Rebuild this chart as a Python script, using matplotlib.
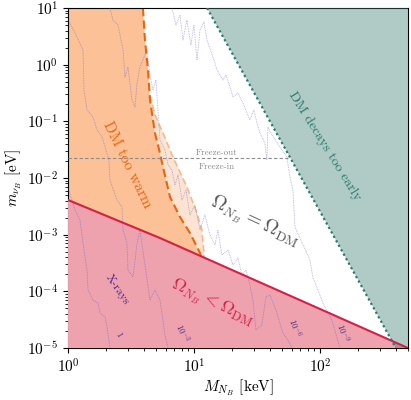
import numpy as np
import matplotlib
matplotlib.use('Agg')
import matplotlib.pyplot as plt

plt.rcParams['mathtext.fontset'] = 'cm'
plt.rcParams['font.family'] = ['cmr10', 'DejaVu Serif']
plt.rcParams['axes.formatter.use_mathtext'] = True

# axis range
M_lim = [1, 500]      # keV
m_lim = [1e-5, 10]    # eV

# "DM too warm" boundary (log10 M [keV], log10 m [eV])
warm_logM = [0.595, 0.611, 0.635, 0.651, 0.690, 0.730, 0.754, 0.810, 0.889, 0.968, 1.048, 1.056]
warm_logm = [1.0, 0.435, -0.094, -0.623, -1.206, -1.559, -1.806, -2.335, -2.688, -2.970, -3.323, -3.38]

# lighter uncertainty band, outer edge
band_logM = [0.651, 0.690, 0.754, 0.833, 0.944, 1.024, 1.063, 1.079, 1.079]
band_logm = [-0.535, -0.888, -1.206, -1.629, -2.159, -2.618, -2.918, -3.323, -3.41]

# Omega_NB = Omega_DM line
relic_M = [1, 5.37, 500]
relic_m = [4.09e-3, 8.73e-4, 1.0e-5]

# DM decays too early boundary
decay_M = [12.7, 401]
decay_m = [10, 1e-5]

# freeze-out / freeze-in separation
freeze_M = [1, 57.8]
freeze_m = [0.0225, 0.0225]

# X-ray contours (log10 M, log10 m)
xr1_logM = [0, .056, .095, .119, .151, .159, .198, .238, .254, .294, .310, .333]
xr1_logm = [-2.176, -2.564, -2.741, -3.147, -3.623, -3.976, -4.153, -4.206, -4.382, -4.453, -4.629, -5.0]

xr3_logM = [0, .056, .119, .127, .151, .198, .230, .270, .294, .325, .333, .389, .429, .437, .468,
            .476, .516, .548, .571, .611, .651, .690, .730, .754, .770, .794]
xr3_logm = [.788, .559, .259, -.447, -.800, -.923, -1.153, -1.276, -1.453, -1.682, -2.035, -2.388,
            -2.512, -2.918, -3.147, -3.623, -3.747, -3.147, -2.918, -3.535, -4.153, -3.976, -4.153,
            -4.506, -4.771, -5.0]

xr6_logM = [.333, .357, .397, .437, .452, .476, .508, .532, .548, .571, .627, .651, .675, .698, .714,
            .730, .770, .794, .825, .849, .873, .905, .937, .968, 1.008, 1.048, 1.087, 1.127, 1.167,
            1.190, 1.222, 1.270, 1.310, 1.349, 1.381, 1.413, 1.444, 1.468, 1.492, 1.540, 1.571,
            1.603, 1.651, 1.706, 1.746, 1.778]
xr6_logm = [1.0, .788, .700, .259, -.218, -.041, -.623, -.747, -.323, -.041, .259, -.182, -.447,
            -.270, -.800, -1.329, -1.506, -1.770, -1.859, -2.123, -1.947, -2.388, -2.212, -2.653,
            -2.476, -2.918, -2.653, -3.006, -3.182, -2.918, -3.359, -3.270, -3.535, -3.412, -3.712,
            -3.623, -3.888, -4.153, -4.682, -4.594, -4.100, -4.065, -4.329, -4.735, -4.859, -5.0]

xr9_logM = [.825, .857, .889, .913, .944, .976, 1.0, 1.024, 1.048, 1.079, 1.103, 1.151, 1.183, 1.230,
            1.254, 1.286, 1.310, 1.349, 1.389, 1.421, 1.444, 1.476, 1.500, 1.524, 1.563, 1.579,
            1.587, 1.619, 1.683, 1.738, 1.762, 1.786, 1.802, 1.921, 1.944, 2.024, 2.095, 2.159]
xr9_logm = [1.0, .700, .876, .435, .788, .347, .700, .082, .612, .753, .435, .135, -.094, -.271,
            -.182, -.394, -.570, -.500, -.676, -.853, -.976, -.800, -1.029, -1.206, -1.382, -1.682,
            -1.100, -1.241, -1.453, -1.629, -1.982, -2.212, -2.865, -3.447, -3.747, -4.206, -4.506, -5.0]

fig = plt.figure(figsize=(4.11, 4.0), dpi=100)
ax = fig.add_axes([0.1655, 0.13, 0.827, 0.85])
ax.set_xscale('log')
ax.set_yscale('log')

warm_M = 10 ** np.array(warm_logM)
warm_m = 10 ** np.array(warm_logm)
band_M = 10 ** np.array(band_logM)
band_m = 10 ** np.array(band_logm)

# DM too warm region
ax.fill(np.r_[M_lim[0], warm_M, M_lim[0]], np.r_[m_lim[1], warm_m, m_lim[0]],
        color='#fcc197', lw=0, zorder=1)
# uncertainty band
sel = warm_M >= band_M[0]
ax.fill(np.r_[warm_M[sel][::-1], band_M], np.r_[warm_m[sel][::-1], band_m],
        color='#fde3d1', lw=0, zorder=1)
ax.plot(band_M, band_m, color='#f8b88e', lw=1.2, dashes=(4, 2), zorder=2)
ax.plot(warm_M, warm_m, color='#ea640f', lw=1.5, dashes=(4, 2), zorder=2)

# Omega_NB < Omega_DM region
ax.fill(np.r_[relic_M, M_lim[1], M_lim[0]], np.r_[relic_m, m_lim[0], m_lim[0]],
        color='#eda2ad', lw=0, zorder=3)

# DM decays too early region
ax.fill(np.r_[decay_M, M_lim[1], M_lim[1]], np.r_[decay_m, m_lim[0], m_lim[1]],
        color='#3a7d71', alpha=0.4, lw=0, zorder=4)

ax.plot(relic_M, relic_m, color='#d61f47', lw=1.5, zorder=6)
ax.plot(decay_M, decay_m, color='#2b7a6d', lw=1.6, ls=(0, (1, 1.3)), zorder=6)
ax.plot(freeze_M, freeze_m, color='#8c8c8c', lw=0.8, dashes=(3, 2), zorder=5)

for lm, lmm in [(xr1_logM, xr1_logm), (xr3_logM, xr3_logm), (xr6_logM, xr6_logm), (xr9_logM, xr9_logm)]:
    ax.plot(10 ** np.array(lm), 10 ** np.array(lmm), color='#5a5ad0', alpha=0.5,
            lw=0.6, ls=(0, (1, 1)), zorder=5)

# labels
ax.text(2.94, 0.017, 'DM too warm', color='#ea640f', fontsize=11, rotation=-64,
        ha='center', va='center', zorder=7)
ax.text(110, 0.0367, 'DM decays too early', color='#2b7a6d', fontsize=10, rotation=-58,
        ha='center', va='center', zorder=7)
ax.text(30.5, 1.67e-3, r'$\Omega_{N_B} = \Omega_{\rm DM}$', color='#555555', fontsize=14,
        rotation=-25, ha='center', va='center', zorder=7)
ax.text(13.9, 6.2e-5, r'$\Omega_{N_B} < \Omega_{\rm DM}$', color='#d61f47', fontsize=13,
        rotation=-25, ha='center', va='center', zorder=7)
ax.text(2.49, 1.06e-4, 'X-rays', color='#4b2a8a', fontsize=8.5, rotation=-56,
        ha='center', va='center', zorder=7)
ax.text(2.49, 1.7e-5, '1', color='#4b2a8a', fontsize=6, rotation=-60,
        ha='center', va='center', zorder=7)
ax.text(8.03, 1.84e-5, r'$10^{-3}$', color='#4b2a8a', fontsize=6.5, rotation=-65,
        ha='center', va='center', zorder=7)
ax.text(63.3, 2.25e-5, r'$10^{-6}$', color='#4b2a8a', fontsize=6.5, rotation=-70,
        ha='center', va='center', zorder=7)
ax.text(152, 1.84e-5, r'$10^{-9}$', color='#4b2a8a', fontsize=6.5, rotation=-70,
        ha='center', va='center', zorder=7)
ax.text(15.2, 0.0276, 'Freeze-out', color='#8c8c8c', fontsize=6.5, ha='center', va='center', zorder=7)
ax.text(15.2, 0.0156, 'Freeze-in', color='#8c8c8c', fontsize=6.5, ha='center', va='center', zorder=7)

ax.set_xlim(M_lim)
ax.set_ylim(m_lim)
ax.set_xlabel(r'$M_{N_B}$ [keV]', fontsize=11, labelpad=1)
ax.set_ylabel(r'$m_{\nu_B}$ [eV]', fontsize=11, labelpad=2)
ax.tick_params(labelsize=11)

fig.savefig('out.png', dpi=100)
